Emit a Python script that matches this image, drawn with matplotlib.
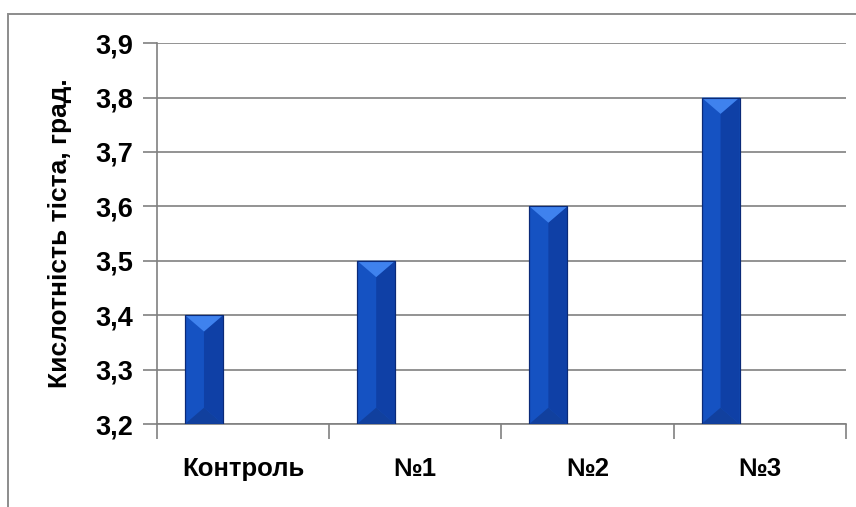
import numpy as np
import matplotlib
matplotlib.use("Agg")
import matplotlib.pyplot as plt
from matplotlib.patches import Rectangle, Polygon

categories = ["Контроль", "№1", "№2", "№3"]
acidity = [3.4, 3.5, 3.6, 3.8]
yticks = [3.2, 3.3, 3.4, 3.5, 3.6, 3.7, 3.8, 3.9]
ylabel = "Кислотність тіста, град."

FONT = ["Liberation Sans", "DejaVu Sans"]
plt.rcParams["font.family"] = FONT

fig = plt.figure(figsize=(8.56, 5.07), dpi=100)
ax = fig.add_axes([0.1834, 0.1637, 0.8046, 0.7513])

# outer chart frame (cut by the image edges at right and bottom)
fig.patches.append(Rectangle((0.0093, -0.05), 1.2, 1.0224, transform=fig.transFigure,
                             fill=False, edgecolor="#8c8c8c", lw=1.4, zorder=0))

x = np.arange(len(categories))
w = 0.221
bars = ax.bar(x - 0.227, np.array(acidity) - 3.2, w, bottom=3.2,
              color="#1552c2", edgecolor="#0a2a78", lw=0.8, zorder=3)

# bevel look: light top, darker right side, slightly darker bottom
for b in bars:
    x0, y0 = b.get_x(), b.get_y()
    bw, bh = b.get_width(), b.get_height()
    x1, y1 = x0 + bw, y0 + bh
    xm = x0 + bw / 2
    dy = 0.03
    ax.add_patch(Polygon([(xm, y0 + dy), (x1, y0), (x1, y1), (xm, y1 - dy)],
                         closed=True, facecolor="#0f40a6", lw=0, zorder=3.5))
    ax.add_patch(Polygon([(x0, y1), (x1, y1), (xm, y1 - dy)],
                         closed=True, facecolor="#3f82ee", lw=0, zorder=3.6))
    ax.add_patch(Polygon([(x0, y0), (x1, y0), (xm, y0 + dy)],
                         closed=True, facecolor="#11409e", lw=0, zorder=3.6))
    ax.add_patch(Rectangle((x0, y0), bw, bh, fill=False, edgecolor="#0a2a78",
                           lw=0.8, zorder=3.7))

ax.set_ylim(3.2, 3.9)
ax.set_xlim(-0.5, len(categories) - 0.5)
ax.set_yticks(yticks)
ax.set_yticklabels([f"{v:.1f}".replace(".", ",") for v in yticks],
                   fontsize=19.5, fontweight="bold")
ax.set_xticks(x)
ax.set_xticklabels(categories, fontsize=18.5, fontweight="bold")
ax.tick_params(axis="x", length=0, pad=24)
ax.set_xticks(np.arange(len(categories) + 1) - 0.5, minor=True)
ax.tick_params(axis="x", which="minor", length=11, color="#808080", width=1.2)
ax.tick_params(axis="y", length=10, color="#808080", width=1.2, pad=7)

ax.grid(True, axis="y", color="#808080", lw=1.2, zorder=0)
for s in ["top", "right"]:
    ax.spines[s].set_visible(False)
ax.spines["left"].set_color("#808080")
ax.spines["bottom"].set_color("#808080")
ax.spines["left"].set_linewidth(1.2)
ax.spines["bottom"].set_linewidth(1.2)

ax.set_ylabel(ylabel, fontsize=19, fontweight="bold", labelpad=17)

fig.savefig("out.png", dpi=100)
